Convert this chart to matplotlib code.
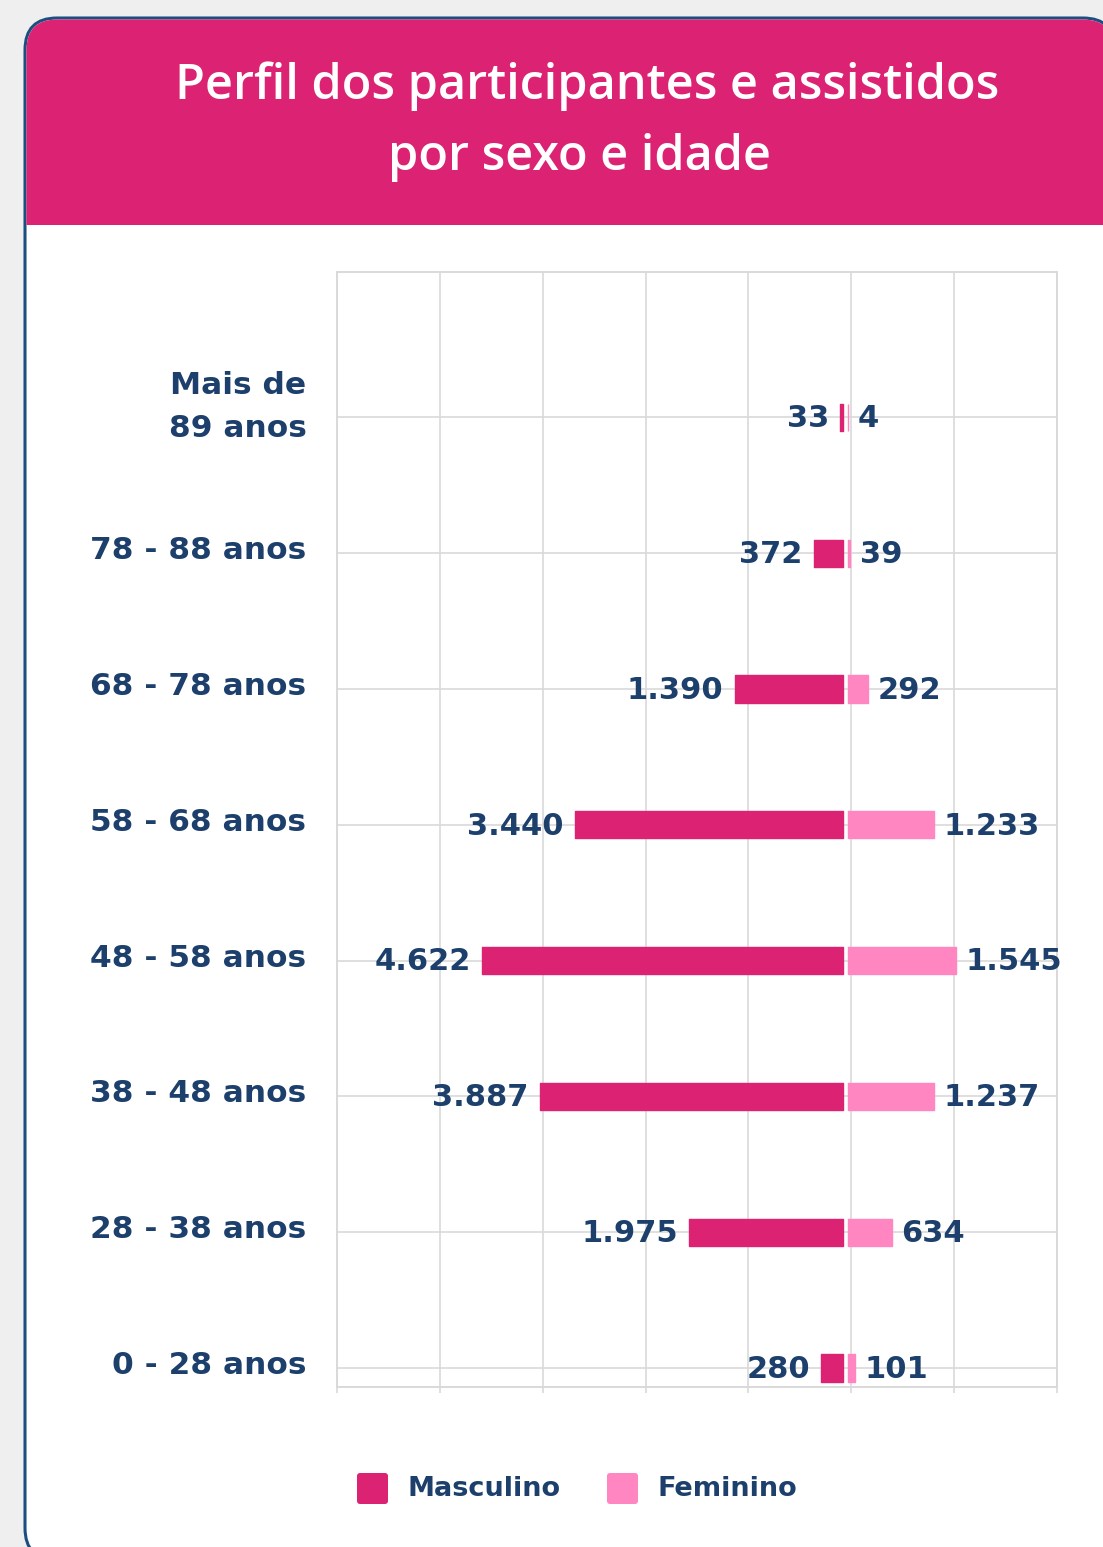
import matplotlib.pyplot as plt
import matplotlib.transforms as mtransforms
import numpy as np
from matplotlib.patches import FancyBboxPatch, Rectangle

# dados
faixas = ['Mais de\n89 anos', '78 - 88 anos', '68 - 78 anos', '58 - 68 anos',
          '48 - 58 anos', '38 - 48 anos', '28 - 38 anos', '0 - 28 anos']
masculino = [33, 372, 1390, 3440, 4622, 3887, 1975, 280]
feminino = [4, 39, 292, 1233, 1545, 1237, 634, 101]
masc_txt = ['33', '372', '1.390', '3.440', '4.622', '3.887', '1.975', '280']
fem_txt = ['4', '39', '292', '1.233', '1.545', '1.237', '634', '101']

PINK = '#DC2272'
LIGHT_PINK = '#FF86C1'
NAVY = '#1C3F6C'
BORDER = '#1B4F80'
GRID = '#D9D9D9'
FONT = 'DejaVu Sans'

W, H = 1103, 1547
fig = plt.figure(figsize=(W / 100, H / 100), dpi=100)
fig.patch.set_facecolor('#EFEFEF')

# card + header
bg = fig.add_axes([0, 0, 1, 1], zorder=0)
bg.set_xlim(0, W)
bg.set_ylim(H, 0)
bg.axis('off')
card = FancyBboxPatch((25, 18), 1090, 1542, boxstyle='round,pad=0,rounding_size=32',
                      facecolor='white', edgecolor=BORDER, linewidth=2.2)
bg.add_patch(card)
# header recortado por dentro da borda
inner = FancyBboxPatch((26.5, 19.5), 1087, 1539, boxstyle='round,pad=0,rounding_size=30.5',
                       transform=bg.transData)
header = Rectangle((0, 0), W, 225, facecolor=PINK, edgecolor='none')
bg.add_patch(header)
header.set_clip_path(inner)
bg.text(587, 86, 'Perfil dos participantes e assistidos', color='white', fontsize=35,
        fontfamily='Open Sans', fontweight='semibold', ha='center', va='center')
bg.text(580, 158, 'por sexo e idade', color='white', fontsize=35,
        fontfamily='Open Sans', fontweight='semibold', ha='center', va='center')

# eixo do grafico (px: 337..1057, 272..1387)
ax = fig.add_axes([337 / W, 1 - 1387 / H, 720 / W, 1115 / H], zorder=2)
ax.set_facecolor('none')
ypos = np.arange(len(faixas))[::-1]

m_scale, f_scale = 0.078, 0.07
m_lim = (-(843 - 337) / m_scale, (1057 - 843) / m_scale)
f_lim = (-(847.5 - 337) / f_scale, (1057 - 847.5) / f_scale)
ax.set_xlim(*m_lim)
ax.set_ylim(-0.14, 8.07)

ax2 = ax.twiny()
ax2.set_xlim(*f_lim)

ax.barh(ypos, [-v for v in masculino], height=0.2, color=PINK, edgecolor=PINK,
        linewidth=1, joinstyle='round', zorder=3)
ax2.barh(ypos, feminino, height=0.2, color=LIGHT_PINK, edgecolor=LIGHT_PINK,
         linewidth=1, joinstyle='round', zorder=3)

for y, v, t in zip(ypos, masculino, masc_txt):
    ax.annotate(t, (-v, y), xytext=(-8, -1), textcoords='offset points', ha='right',
                va='center', fontsize=22, fontweight='bold', fontfamily=FONT, color=NAVY)
for y, v, t in zip(ypos, feminino, fem_txt):
    ax2.annotate(t, (v, y), xytext=(7, -1), textcoords='offset points', ha='left',
                 va='center', fontsize=22, fontweight='bold', fontfamily=FONT, color=NAVY)

ax.set_xticks(np.linspace(m_lim[0], m_lim[1], 8))
ax.set_xticklabels([])
ax.set_yticks(ypos)
ax.set_yticklabels(faixas, fontsize=22.5, fontweight='bold', fontfamily=FONT, color=NAVY,
                   linespacing=1.6)
ax.tick_params(axis='y', length=0, pad=22)
ax.tick_params(axis='x', length=4, color=GRID, width=1.2)
shift = mtransforms.ScaledTranslation(0, 4 / 72, fig.dpi_scale_trans)
for i, lbl in enumerate(ax.get_yticklabels()):
    extra = 0.15 if i == 0 else 0
    lbl.set_transform(lbl.get_transform() + shift
                      + mtransforms.ScaledTranslation(0, extra, fig.dpi_scale_trans))
ax2.set_xticks([])
ax.grid(True, color=GRID, linewidth=1.2)
ax.set_axisbelow(True)
for a in (ax, ax2):
    for s in a.spines.values():
        s.set_color(GRID)
        s.set_linewidth(1.2)

# legenda
ov = fig.add_axes([0, 0, 1, 1], zorder=4)
ov.set_xlim(0, W)
ov.set_ylim(H, 0)
ov.axis('off')
for x0, c, lbl in [(357, PINK, 'Masculino'), (607, LIGHT_PINK, 'Feminino')]:
    ov.add_patch(FancyBboxPatch((x0, 1473), 31, 31, boxstyle='round,pad=0,rounding_size=3',
                                facecolor=c, edgecolor='none'))
    ov.text(x0 + 51, 1489, lbl, fontsize=19.5, fontweight='bold', fontfamily=FONT,
            color=NAVY, ha='left', va='center')

fig.savefig('out.png', dpi=100, facecolor=fig.get_facecolor())
